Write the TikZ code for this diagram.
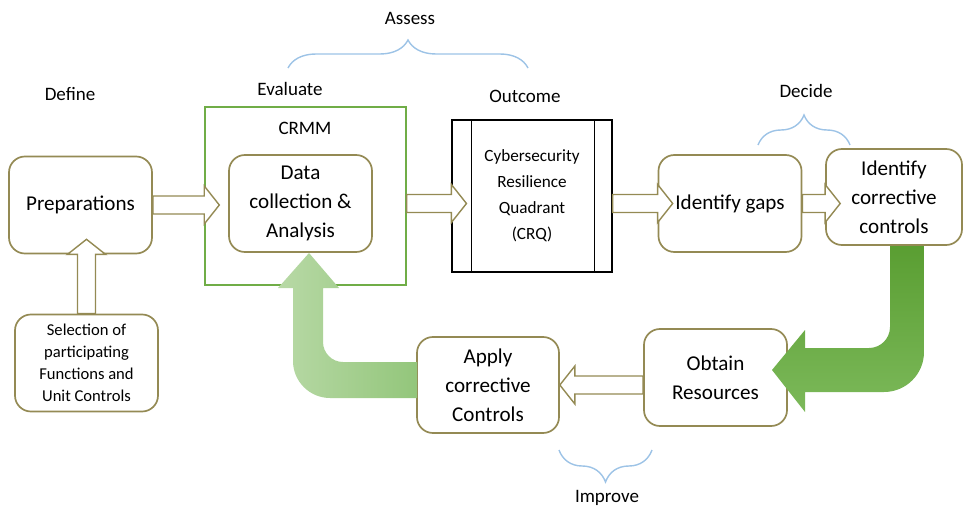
\documentclass[tikz,border=0pt]{standalone}
\usepackage{fontspec}
\setmainfont{Carlito}
\usetikzlibrary{calc,decorations.pathreplacing}
\definecolor{boxline}{HTML}{948A54}
\definecolor{frame}{HTML}{70AD47}
\definecolor{bracecol}{HTML}{9DC3E6}
\definecolor{darkA}{HTML}{5A9E32}
\definecolor{darkB}{HTML}{7CB95A}
\definecolor{lightA}{HTML}{B8D9A6}
\definecolor{lightB}{HTML}{93C67B}
\tikzstyle{box}=[
	rectangle,
	rounded corners=0.4cm,
	minimum width=3.575cm,
	minimum height=2.425cm,
	draw=boxline,
	line width=1.2pt,
	fill=white,
	align=center,
	inner sep=0pt,
	font=\fontsize{15}{20.5}\selectfont
]
\tikzstyle{tag}=[font=\fontsize{13.5}{16}\selectfont]
\tikzstyle{hollow}=[
	draw=boxline,
	line width=1pt,
	fill=white,
	to path={let \p1=(\tikztostart), \p2=(\tikztotarget),
		\n1={veclen(\x2-\x1,\y2-\y1)},
		\n2={(\x2-\x1)/\n1}, \n3={(\y2-\y1)/\n1} in
		({\x1-(\n3)*6.4pt},{\y1+(\n2)*6.4pt})
		-- ({\x2-(\n3)*6.4pt},{\y2+(\n2)*6.4pt})
		-- ({\x2-(\n3)*13.5pt},{\y2+(\n2)*13.5pt})
		-- ({\x2+(\n2)*10.7pt},{\y2+(\n3)*10.7pt})
		-- ({\x2+(\n3)*13.5pt},{\y2-(\n2)*13.5pt})
		-- ({\x2+(\n3)*6.4pt},{\y2-(\n2)*6.4pt})
		-- ({\x1+(\n3)*6.4pt},{\y1-(\n2)*6.4pt}) -- cycle}
]
\tikzstyle{curly}=[
	draw=bracecol,
	line width=1pt,
	decorate,
	decoration={brace,amplitude=0.7cm}
]

\begin{document}
\begin{tikzpicture}[x=0.025cm,y=-0.025cm]
\useasboundingbox (0,0) rectangle (966,513);

% CRMM frame
\node[draw=frame, line width=1pt, minimum width=5.025cm, minimum height=4.45cm, inner sep=0pt] (crmm) at (305.5,196) {};
\node[tag] (crmmtxt) at (305,128) {CRMM};

% Preparations
\node[box] (prep) at (80.5,205) {Preparations};

% Data collection
\node[box] (data) at (300.5,203.5) {Data\\collection \&\\Analysis};

% Outcome quadrant
\node[draw=black, line width=0.8pt, minimum width=4cm, minimum height=3.8cm, align=center, inner sep=0pt, font=\fontsize{12.2}{18.5}\selectfont] (crq) at (532,196) {Cybersecurity\\Resilience\\Quadrant\\(CRQ)};
\draw[line width=0.8pt] ($(crq.north west)+(20,0)$) -- ($(crq.south west)+(20,0)$);
\draw[line width=0.8pt] ($(crq.north east)+(-18,0)$) -- ($(crq.south east)+(-18,0)$);

% Identify gaps
\node[box] (gaps) at (730,203.5) {Identify gaps};

% Identify corrective controls
\node[box, minimum width=3.4cm, minimum height=2.4cm] (corr) at (894,197) {Identify\\corrective\\controls};

% Obtain resources
\node[box] (obtain) at (715.5,377.5) {Obtain\\Resources};

% Apply corrective controls
\node[box, minimum width=3.55cm, minimum height=2.4cm] (apply) at (488,385) {Apply\\corrective\\Controls};

% Selection of functions
\node[box, font=\fontsize{11.8}{15.6}\selectfont] (sel) at (86.5,363) {Selection of\\participating\\Functions and\\Unit Controls};

% Corrective controls to resources
\shade[top color=darkA, bottom color=darkB] (890,246) -- (890,327) .. controls (890,338.6) and (880.6,348) .. (869,348) -- (805,348) -- (805,330) -- (772,370) -- (805,412) -- (805,392) -- (884,392) .. controls (906.1,392) and (924,374.1) .. (924,352) -- (924,246) -- cycle;

% Apply back to data collection
\shade[left color=lightA, right color=lightB] (417,362) -- (343,362) .. controls (332,362) and (323,353) .. (323,342) -- (323,288) -- (339,288) -- (309,253) -- (278,288) -- (293,288) -- (293,361) .. controls (293,381.4) and (309.6,398) .. (330,398) -- (417,398) -- cycle;

% Hollow arrows
\draw[hollow] (prep.east) to (crmm.west |- prep.east);
\draw[hollow] (crmm.east |- data.east) to (crq.west |- data.east);
\draw[hollow] (crq.east |- gaps.west) to (gaps.west);
\draw[hollow] (gaps.east) to (corr.west |- gaps.east);
\draw[hollow] (sel.north) to (prep.south -| sel.north);
\draw[hollow] (obtain.west |- apply.east) to ([xshift=0.375cm]apply.east);

% Stage labels
\node[tag] (define) at (70,94) {Define};
\node[tag] (evaluate) at (290,89) {Evaluate};
\node[tag] (outcome) at (525,96) {Outcome};
\node[tag] (assess) at (410,18) {Assess};
\node[tag] (decide) at (806,91) {Decide};
\node[tag] (improve) at (607,498) {Improve};

% Braces
\draw[curly] (288,68) -- (528,68);
\draw[curly, decoration={brace,amplitude=0.75cm}] (758,145) -- (850,145);
\draw[curly, decoration={brace,amplitude=0.8cm}] (652,450) -- (559,450);

\end{tikzpicture}
\end{document}
